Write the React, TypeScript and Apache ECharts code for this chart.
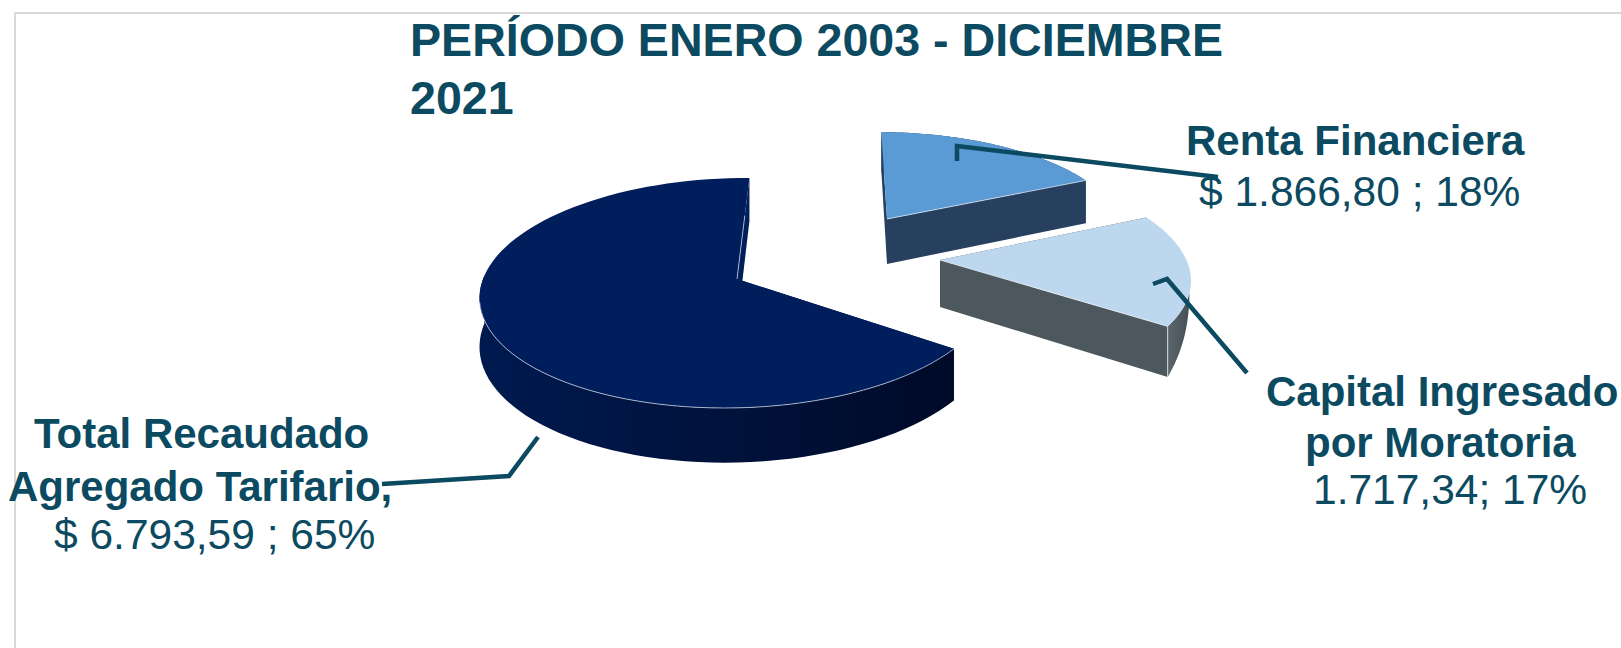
import React, { useEffect, useRef } from "react";
import * as echarts from "echarts";

const categories = ["Total Recaudado Agregado Tarifario", "Renta Financiera", "Capital Ingresado por Moratoria"];
const values = [6793.59, 1866.8, 1717.34];
const titleLines = ["PERÍODO ENERO 2003 - DICIEMBRE", "2021"];
const labelTexts = [
  ["Total Recaudado", "Agregado Tarifario,", "$ 6.793,59 ; 65%"],
  ["Renta Financiera", "$ 1.866,80 ; 18%"],
  ["Capital Ingresado", "por Moratoria", "1.717,34; 17%"],
];

const INK = "#0b4a60";
const FIRST_ANGLE = 125;
const total = values.reduce((a, b) => a + b, 0);

// projection of the tilted disc
const R = 254, RY = 113.3, K = 0.1217;
const slices = [
  { ax: 737, ay: 279, sx: 1, sy: 1, s: -11, depth: 48, top: "#001e5c", wall: ["#001a50", "#000a28"], edge: "#001e5c", seam: "rgba(205,212,228,0.75)", wallFrom: 0, wallTo: 0.62, taper: false },
  { ax: 887, ay: 219, sx: 0.92, sy: 0.86, s: 9, depth: 45, top: "#5b9bd5", wall: ["#27405f", "#27405f"], edge: "#27405f", seam: "rgba(235,240,245,0.7)", wallFrom: 0, wallTo: 1, taper: false },
  { ax: 940, ay: 260, sx: 0.97, sy: 0.95, s: 17.4, depth: 47, top: "#bdd7ee", wall: ["#5a656c", "#444f56"], edge: "#4c575e", seam: "rgba(235,240,245,0.8)", wallFrom: 0.7, wallTo: 1, taper: true },
];

function point(i: number, deg: number, r: number) {
  const sl = slices[i];
  const a = (deg * Math.PI) / 180;
  const u = r * Math.sin(a);
  const v = -r * Math.cos(a);
  const w = 1 - K * v;
  return {
    x: sl.ax + (R * u * sl.sx + sl.s * v) / w,
    y: sl.ay + (RY * v * sl.sy) / w,
    d: sl.depth / w,
  };
}

function renderSlice(params: any, api: any) {
  const i = params.dataIndex;
  const sl = slices[i];
  let start = FIRST_ANGLE;
  for (let j = 0; j < i; j++) start += (values[j] / total) * 360;
  const end = start + (api.value(0) / total) * 360;
  const N = 90;
  const rim: any[] = [];
  for (let n = 0; n <= N; n++) rim.push(point(i, start + ((end - start) * n) / N, 1));
  const apex = point(i, 0, 0);
  const P = (p: any) => [p.x, p.y];
  const B = (p: any) => [p.x, p.y + p.d];
  const topPts = [P(apex), ...rim.map(P)];
  const wallRim = rim.slice(Math.round(N * sl.wallFrom), Math.round(N * sl.wallTo) + 1);
  const wallBottom = wallRim.map((p: any, n: number) => {
    const t = wallRim.length > 1 ? n / (wallRim.length - 1) : 1;
    return [p.x, p.y + p.d * (sl.taper ? Math.sqrt(t) : 1)];
  });
  const wallPts = [...wallRim.map(P), ...wallBottom.reverse()];
  const first = rim[0];
  const last = rim[N];
  const fillEdge = sl.edge;
  const children: any[] = [
    { type: "polygon", shape: { points: [P(apex), P(first), B(first), B(apex)] }, style: { fill: fillEdge } },
    { type: "polygon", shape: { points: [P(apex), P(last), B(last), B(apex)] }, style: { fill: fillEdge } },
    {
      type: "polygon",
      shape: { points: wallPts },
      style: {
        fill: new echarts.graphic.LinearGradient(0, 0, 1, 0, [
          { offset: 0, color: sl.wall[0] },
          { offset: 1, color: sl.wall[1] },
        ]),
      },
    },
    { type: "polygon", shape: { points: topPts }, style: { fill: sl.top } },
  ];
  if (i === 0) {
    const nearEnd = Math.round(N * 0.58);
    children.push({
      type: "polyline",
      shape: { points: rim.slice(0, nearEnd).map(P) },
      style: { stroke: sl.seam, lineWidth: 1, fill: "none" },
    });
    children.push({
      type: "polyline",
      shape: { points: [P(apex), P(point(i, end, 0.6))] },
      style: { stroke: sl.seam, lineWidth: 1, fill: "none" },
    });
  } else if (i === 1) {
    children.push({
      type: "polyline",
      shape: { points: [P(apex), P(last)] },
      style: { stroke: sl.seam, lineWidth: 1, fill: "none" },
    });
  } else {
    children.push({
      type: "polyline",
      shape: { points: [P(apex), P(last), B(last)] },
      style: { stroke: sl.seam, lineWidth: 1, fill: "none" },
    });
  }
  return { type: "group", children };
}

const FONT = "'Liberation Sans', Arial, sans-serif";
const boldSize = 42;
const regSize = 42.5;

// [series index, line index] -> left x, baseline y, bold?
const labelPlaces: [number, number, number, number, boolean][] = [
  [0, 0, 34, 454, true],
  [0, 1, 8, 507, true],
  [0, 2, 54, 556, false],
  [1, 0, 1186, 161, true],
  [1, 1, 1199, 213, false],
  [2, 0, 1266, 412, true],
  [2, 1, 1305, 463, true],
  [2, 2, 1313, 511, false],
];

const leaders = [
  [[382, 484], [509, 476], [538, 437]],
  [[957, 161], [957, 146], [1218, 177]],
  [[1153, 284], [1167, 279], [1247, 373]],
];

export default function App() {
  const ref = useRef<HTMLDivElement>(null);
  useEffect(() => {
    document.body.style.margin = "0";
    const chart = echarts.init(ref.current!, undefined, { renderer: "svg" });
    chart.setOption({
      animation: false,
      backgroundColor: "#ffffff",
      title: {
        text: titleLines.join("\n"),
        left: 405,
        top: 6,
        textStyle: { color: INK, fontFamily: FONT, fontWeight: "bold", fontSize: 46.6, lineHeight: 58 },
      },
      series: [
        {
          type: "custom",
          coordinateSystem: "none",
          renderItem: renderSlice,
          silent: true,
          data: values.map((v, i) => ({ name: categories[i], value: [v] })),
          z: 2,
        },
      ],
      graphic: [
        {
          type: "polyline",
          z: 0,
          shape: { points: [[15, 700], [15, 13], [1621, 13]] },
          style: { stroke: "#d9d9d9", lineWidth: 2, fill: "none" },
        },
        ...labelPlaces.map(([s, l, x, y, bold]) => ({
          type: "text",
          z: 5,
          x,
          y,
          style: {
            text: labelTexts[s][l],
            fill: INK,
            font: `${bold ? "bold " : ""}${bold ? boldSize : regSize}px ${FONT}`,
            textAlign: "left",
            textVerticalAlign: "bottom",
            verticalAlign: "alphabetic",
          },
        })),
        ...leaders.map((pts) => ({
          type: "polyline",
          z: 6,
          shape: { points: pts },
          style: { stroke: INK, lineWidth: 4.5, fill: "none" },
        })),
      ],
    });
    return () => chart.dispose();
  }, []);
  return <div ref={ref} style={{ width: 1621, height: 648 }} />;
}
